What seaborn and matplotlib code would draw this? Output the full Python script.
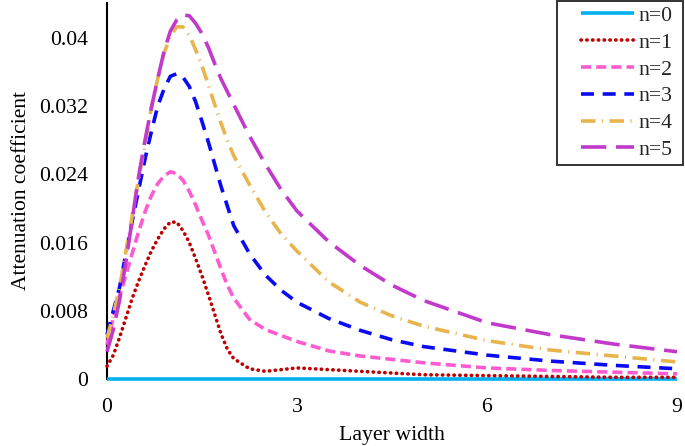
import matplotlib
matplotlib.use("Agg")
import matplotlib.pyplot as plt
import seaborn as sns
import pandas as pd
import numpy as np

# ---- data ----
x_vals = [0, 0.1, 0.2, 0.3, 0.4, 0.5, 0.6, 0.7, 0.8, 0.9, 1.0, 1.1, 1.2, 1.3,
          1.4, 1.5, 1.6, 1.7, 1.8, 1.9, 2.0, 2.25, 2.5, 2.75, 3.0, 3.5, 4.0,
          4.5, 5.0, 6.0, 7.0, 8.0, 9.0]
n0 = [0.0] * len(x_vals)
n1 = [0.0015, 0.0028, 0.0049, 0.0072, 0.0095, 0.0115, 0.0133, 0.0150, 0.0164,
      0.0176, 0.0184, 0.0184, 0.0174, 0.0160, 0.0141, 0.0121, 0.0099, 0.0076,
      0.0053, 0.0035, 0.0024, 0.0012, 0.0009, 0.0011, 0.0013, 0.0011, 0.0009,
      0.0007, 0.0005, 0.0004, 0.0003, 0.0002, 0.0002]
n2 = [0.0040, 0.0072, 0.0098, 0.0122, 0.0148, 0.0173, 0.0196, 0.0215, 0.0229,
      0.0238, 0.0243, 0.0241, 0.0233, 0.0220, 0.0204, 0.0186, 0.0169, 0.0149,
      0.0129, 0.0110, 0.0095, 0.0070, 0.0058, 0.0051, 0.0044, 0.0033, 0.0027,
      0.0023, 0.0019, 0.0013, 0.0010, 0.0008, 0.0006]
n3 = [0.0052, 0.0080, 0.0108, 0.0148, 0.0186, 0.0222, 0.0258, 0.0290, 0.0320,
      0.0340, 0.0355, 0.0358, 0.0354, 0.0343, 0.0325, 0.0302, 0.0278, 0.0252,
      0.0226, 0.0203, 0.0180, 0.0147, 0.0122, 0.0104, 0.0090, 0.0071, 0.0057,
      0.0046, 0.0038, 0.0028, 0.0021, 0.0016, 0.0012]
n4 = [0.0048, 0.0075, 0.0108, 0.0150, 0.0192, 0.0235, 0.0275, 0.0318, 0.0352,
      0.0382, 0.0402, 0.0413, 0.0413, 0.0403, 0.0386, 0.0367, 0.0345, 0.0322,
      0.0300, 0.0280, 0.0262, 0.0228, 0.0196, 0.0170, 0.0150, 0.0114, 0.0090,
      0.0074, 0.0062, 0.0045, 0.0034, 0.0027, 0.0020]
n5 = [0.0032, 0.0058, 0.0093, 0.0138, 0.0188, 0.0238, 0.0280, 0.0318, 0.0352,
      0.0384, 0.0408, 0.0421, 0.0427, 0.0426, 0.0417, 0.0405, 0.0389, 0.0370,
      0.0352, 0.0337, 0.0322, 0.0285, 0.0252, 0.0222, 0.0197, 0.0161, 0.0133,
      0.0110, 0.0092, 0.0066, 0.0052, 0.0041, 0.0032]
series_labels = ["n=0", "n=1", "n=2", "n=3", "n=4", "n=5"]
y_ticks = [0, 0.008, 0.016, 0.024, 0.032, 0.04]
y_tick_labels = ["0", "0.008", "0.016", "0.024", "0.032", "0.04"]
x_ticks = [0, 3, 6, 9]

# ---- styles ----
colors = ["#00B0F0", "#C00000", "#FF5BD0", "#0A0AF5", "#E8B44E", "#C23ACB"]
styles = ["-", (0, (0.1, 1.5)), (0, (2.8, 1.4)), (0, (3.6, 2.4)),
          (0, (4.0, 1.8, 0.3, 1.8)), (0, (7.0, 2.7))]
caps = ["butt", "round", "butt", "butt", "butt", "butt"]
FS = 15.7

sns.set_theme(style="white")
plt.rcParams["font.family"] = ["Liberation Serif", "DejaVu Serif"]

fig = plt.figure(figsize=(6.85, 4.46), dpi=100)
ax = fig.add_axes([107 / 685, 1 - 379 / 446, (677 - 107) / 685, (379 - 3) / 446])

all_y = [n0, n1, n2, n3, n4, n5]
for lab, yv, c, ls, cap in zip(series_labels, all_y, colors, styles, caps):
    df = pd.DataFrame({"x": x_vals, "y": yv})
    sns.lineplot(data=df, x="x", y="y", ax=ax, color=c, linewidth=2.6,
                 linestyle=ls, label=lab, clip_on=False,
                 dash_capstyle=cap, solid_capstyle="butt", zorder=3)

ax.set_xlim(0, 9)
ax.set_ylim(0, 0.0441)
ax.set_xticks(x_ticks)
ax.set_xticklabels([str(v) for v in x_ticks])
ax.set_yticks(y_ticks)
ax.set_yticklabels(y_tick_labels)
ax.tick_params(axis="both", length=0, labelsize=FS, colors="black")
ax.tick_params(axis="y", pad=13.5)
ax.tick_params(axis="x", pad=14)
ax.set_xlabel("Layer width", fontsize=FS, color="black", labelpad=6)
ax.set_ylabel("Attenuation coefficient", fontsize=15.5, color="black", labelpad=6)

for s in ["top", "right", "bottom"]:
    ax.spines[s].set_visible(False)
ax.spines["left"].set_color("black")
ax.spines["left"].set_linewidth(1.5)

leg = ax.legend(loc="upper left",
                bbox_to_anchor=(557 / 685, 0, 126 / 685, 1 - 1 / 446),
                bbox_transform=fig.transFigure, mode="expand",
                fontsize=FS, frameon=True, fancybox=False, edgecolor="black",
                handlelength=3.3, handletextpad=0.2, labelspacing=0.3,
                borderpad=0.22, borderaxespad=0)
leg.get_frame().set_linewidth(1.4)
for line, cap in zip(leg.get_lines(), caps):
    line.set_dash_capstyle(cap)
    xd = np.asarray(line.get_xdata(), dtype=float)
    start = xd.min() + (xd.max() - xd.min()) * 0.26
    line.set_xdata(np.linspace(start, xd.max(), len(xd)))

fig.savefig("out.png", dpi=100)
